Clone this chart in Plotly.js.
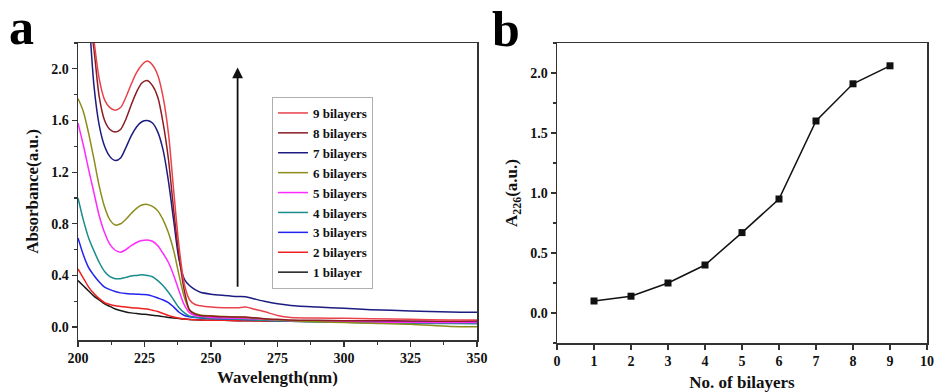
<!DOCTYPE html>
<html>
<head>
<meta charset="utf-8">
<script src="https://cdn.plot.ly/plotly-3.0.1.min.js"></script>
<style>
  html, body { margin: 0; padding: 0; background: #fff; }
  #chart { width: 934px; height: 392px; }
</style>
</head>
<body>
<div id="chart"></div>
<script>
// ---------- Panel a: UV-vis spectra ----------
const wavelength = [200, 202, 204, 206, 208, 210, 212, 214, 216, 218, 220, 222, 224, 226, 228, 230, 232, 234, 236, 238, 240, 242, 244, 246, 250, 255, 260, 263, 266, 270, 275, 280, 290, 300, 310, 325, 340, 350];

const abs1 = [0.36, 0.32, 0.28, 0.24, 0.21, 0.18, 0.16, 0.14, 0.128, 0.117, 0.11, 0.105, 0.10, 0.097, 0.092, 0.087, 0.081, 0.075, 0.07, 0.066, 0.062, 0.059, 0.057, 0.055, 0.053, 0.052, 0.05, 0.05, 0.049, 0.048, 0.047, 0.046, 0.045, 0.044, 0.043, 0.042, 0.041, 0.04];
const abs2 = [0.45, 0.38, 0.31, 0.26, 0.22, 0.19, 0.175, 0.165, 0.16, 0.155, 0.15, 0.147, 0.143, 0.14, 0.13, 0.12, 0.105, 0.09, 0.078, 0.068, 0.062, 0.058, 0.056, 0.055, 0.053, 0.052, 0.05, 0.05, 0.048, 0.047, 0.045, 0.045, 0.043, 0.042, 0.042, 0.04, 0.04, 0.04];
const abs3 = [0.69, 0.56, 0.46, 0.40, 0.35, 0.31, 0.29, 0.275, 0.265, 0.26, 0.257, 0.255, 0.252, 0.25, 0.24, 0.225, 0.21, 0.19, 0.155, 0.115, 0.09, 0.08, 0.074, 0.07, 0.066, 0.063, 0.06, 0.058, 0.056, 0.053, 0.05, 0.048, 0.045, 0.043, 0.042, 0.04, 0.038, 0.037];
const abs4 = [1.00, 0.83, 0.69, 0.59, 0.50, 0.43, 0.39, 0.375, 0.375, 0.385, 0.395, 0.40, 0.405, 0.40, 0.39, 0.36, 0.32, 0.27, 0.21, 0.15, 0.11, 0.085, 0.078, 0.074, 0.068, 0.064, 0.06, 0.058, 0.055, 0.052, 0.048, 0.045, 0.04, 0.037, 0.034, 0.03, 0.027, 0.025];
const abs5 = [1.58, 1.41, 1.22, 1.04, 0.86, 0.73, 0.64, 0.595, 0.58, 0.60, 0.63, 0.655, 0.67, 0.675, 0.665, 0.63, 0.57, 0.50, 0.40, 0.28, 0.17, 0.11, 0.09, 0.083, 0.075, 0.07, 0.068, 0.067, 0.065, 0.06, 0.055, 0.05, 0.045, 0.042, 0.04, 0.037, 0.035, 0.035];
const abs6 = [1.77, 1.67, 1.50, 1.30, 1.09, 0.93, 0.83, 0.79, 0.80, 0.835, 0.88, 0.92, 0.945, 0.95, 0.935, 0.90, 0.83, 0.73, 0.59, 0.40, 0.23, 0.13, 0.105, 0.093, 0.087, 0.082, 0.077, 0.075, 0.07, 0.062, 0.055, 0.05, 0.042, 0.035, 0.03, 0.022, 0.005, 0.003];
const abs7 = [3.4, 3.0, 2.45, 1.87, 1.56, 1.40, 1.32, 1.29, 1.31, 1.39, 1.48, 1.55, 1.59, 1.60, 1.58, 1.51, 1.37, 1.13, 0.82, 0.52, 0.37, 0.32, 0.29, 0.27, 0.255, 0.245, 0.237, 0.235, 0.22, 0.20, 0.18, 0.168, 0.155, 0.145, 0.135, 0.125, 0.117, 0.115];
const abs8 = [3.0, 2.75, 2.45, 2.15, 1.78, 1.60, 1.53, 1.51, 1.53, 1.61, 1.72, 1.82, 1.89, 1.91, 1.87, 1.78, 1.58, 1.30, 0.90, 0.55, 0.28, 0.13, 0.10, 0.09, 0.085, 0.08, 0.078, 0.078, 0.072, 0.065, 0.06, 0.055, 0.052, 0.05, 0.05, 0.048, 0.045, 0.05];
const abs9 = [3.2, 2.9, 2.55, 2.22, 1.92, 1.76, 1.70, 1.68, 1.70, 1.78, 1.88, 1.97, 2.03, 2.06, 2.03, 1.95, 1.78, 1.50, 1.05, 0.62, 0.33, 0.21, 0.175, 0.165, 0.155, 0.15, 0.15, 0.155, 0.14, 0.12, 0.09, 0.075, 0.07, 0.068, 0.065, 0.06, 0.055, 0.055];

const seriesNames = ["1 bilayer", "2 bilayers", "3 bilayers", "4 bilayers", "5 bilayers", "6 bilayers", "7 bilayers", "8 bilayers", "9 bilayers"];
const seriesColors = ["#1a1a1a", "#ee2020", "#2424ee", "#1a8c8c", "#ff2aff", "#8c8c1a", "#1c1c80", "#8b1c22", "#e8424c"];
const seriesValues = [abs1, abs2, abs3, abs4, abs5, abs6, abs7, abs8, abs9];

// ---------- Panel b: A226 vs number of bilayers ----------
const bilayers = [1, 2, 3, 4, 5, 6, 7, 8, 9];
const a226 = [0.10, 0.14, 0.25, 0.40, 0.67, 0.95, 1.60, 1.91, 2.06];

const serif = "Liberation Serif, Times New Roman, serif";
const tickFont = { family: serif, size: 14, color: "#111", weight: "bold" };
const titleFont = { family: serif, size: 17, color: "#111", weight: "bold" };

const traces = seriesValues.map((vals, i) => ({
  type: "scatter", mode: "lines",
  x: wavelength, y: vals,
  name: seriesNames[i],
  line: { color: seriesColors[i], width: 1.5, shape: "spline", smoothing: 0.8 },
  xaxis: "x", yaxis: "y",
  hoverinfo: "skip"
}));

traces.push({
  type: "scatter", mode: "lines+markers",
  x: bilayers, y: a226,
  name: "A226",
  showlegend: false,
  line: { color: "#111", width: 1.5 },
  marker: { symbol: "square", size: 7, color: "#111" },
  xaxis: "x2", yaxis: "y2"
});

const axisCommon = {
  showgrid: false, zeroline: false,
  showline: true, linecolor: "#333", linewidth: 1.5, mirror: true,
  ticks: "outside", ticklen: 5, tickwidth: 1.2, tickcolor: "#333",
  tickfont: tickFont, automargin: false
};

const layout = {
  width: 934, height: 392,
  margin: { l: 0, r: 0, t: 0, b: 0 },
  paper_bgcolor: "#fff", plot_bgcolor: "#fff",
  showlegend: true,
  legend: {
    x: 272 / 934, y: 1 - 97 / 392, xanchor: "left", yanchor: "top",
    traceorder: "reversed",
    bordercolor: "#b0b0b0", borderwidth: 1, bgcolor: "#fff",
    font: { family: serif, size: 13, color: "#111", weight: "bold" },
    itemwidth: 30, tracegroupgap: 0
  },
  xaxis: Object.assign({}, axisCommon, {
    domain: [78 / 934, 477 / 934], anchor: "y",
    range: [200, 350], tick0: 200, dtick: 25,
    minor: { ticks: "outside", ticklen: 3, dtick: 12.5, tickcolor: "#333", tickwidth: 1.2 },
    title: { text: "Wavelength(nm)", font: titleFont, standoff: 6 }
  }),
  yaxis: Object.assign({}, axisCommon, {
    domain: [(392 - 340) / 392, (392 - 43) / 392], anchor: "x",
    range: [-0.1, 2.2], tick0: 0, dtick: 0.4, tickformat: ".1f",
    minor: { ticks: "outside", ticklen: 3, dtick: 0.2, tickcolor: "#333", tickwidth: 1.2 },
    title: { text: "Absorbance(a.u.)", font: titleFont, standoff: 8 }
  }),
  xaxis2: Object.assign({}, axisCommon, {
    domain: [557 / 934, 927 / 934], anchor: "y2",
    range: [0, 10], tick0: 0, dtick: 1,
    title: { text: "No. of bilayers", font: titleFont, standoff: 10 }
  }),
  yaxis2: Object.assign({}, axisCommon, {
    domain: [(392 - 343) / 392, (392 - 43) / 392], anchor: "x2",
    range: [-0.25, 2.25], tick0: 0, dtick: 0.5, tickformat: ".1f",
    minor: { ticks: "outside", ticklen: 3, dtick: 0.25, tickcolor: "#333", tickwidth: 1.2 },
    title: { text: "A<sub>226</sub>(a.u.)", font: titleFont, standoff: 8 }
  }),
  annotations: [
    {
      xref: "x", yref: "y", axref: "x", ayref: "y",
      x: 260, y: 2.01, ax: 260, ay: 0.30,
      text: "", showarrow: true, arrowhead: 2, arrowsize: 1.2, arrowwidth: 1.8, arrowcolor: "#111"
    },
    {
      xref: "paper", yref: "paper", x: 21 / 934, y: 1 - 27 / 392, xanchor: "center", yanchor: "middle",
      text: "a", showarrow: false, font: { family: serif, size: 50, color: "#000", weight: "bold" }
    },
    {
      xref: "paper", yref: "paper", x: 506 / 934, y: 1 - 29 / 392, xanchor: "center", yanchor: "middle",
      text: "b", showarrow: false, font: { family: serif, size: 50, color: "#000", weight: "bold" }
    }
  ]
};

Plotly.newPlot("chart", traces, layout, { displayModeBar: false, staticPlot: true });
</script>
</body>
</html>
